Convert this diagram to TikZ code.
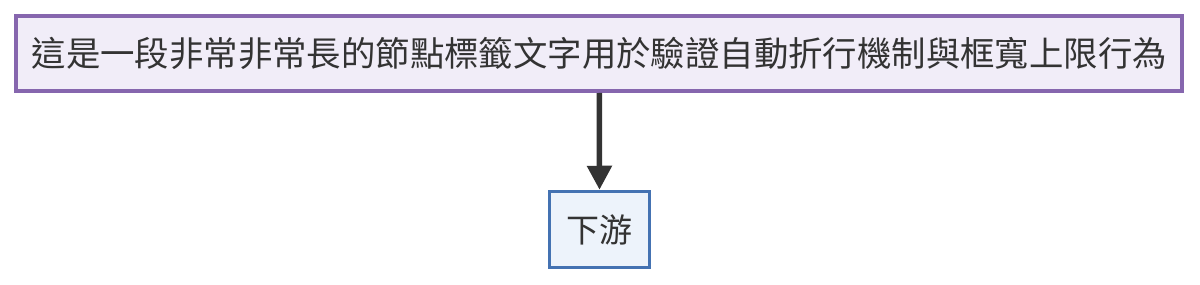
\documentclass[tikz,border=0pt]{standalone}
\usepackage{fontspec}
\setmainfont{Noto Sans CJK TC}
\usetikzlibrary{arrows.meta}
\definecolor{pborder}{HTML}{8666AE}
\definecolor{pfill}{HTML}{F1EDF8}
\definecolor{bborder}{HTML}{4472B2}
\definecolor{bfill}{HTML}{EDF3FB}
\definecolor{ink}{HTML}{333333}
\tikzset{
  topbox/.style={draw=pborder, fill=pfill, line width=4pt, inner sep=0pt,
    minimum width=1166pt, minimum height=75pt, text=ink, font=\fontsize{34.4pt}{38pt}\selectfont},
  botbox/.style={draw=bborder, fill=bfill, line width=3.5pt, inner sep=0pt,
    minimum width=100pt, minimum height=76pt, text=ink, font=\fontsize{33pt}{38pt}\selectfont},
  link/.style={draw=ink, line width=5.5pt, -{Triangle[width=24pt,length=24pt]}}
}
\begin{document}
\begin{tikzpicture}[x=1pt,y=1pt]
\useasboundingbox (0,0) rectangle (1200,284);
\node[topbox] (a) at (599.25,230.5) {這是一段非常非常長的節點標籤文字用於驗證自動折行機制與框寬上限行為};
\node[botbox] (b) at (599.5,54.5) {下游};
\draw[link] (a.south) -- (b.north);
\end{tikzpicture}
\end{document}
